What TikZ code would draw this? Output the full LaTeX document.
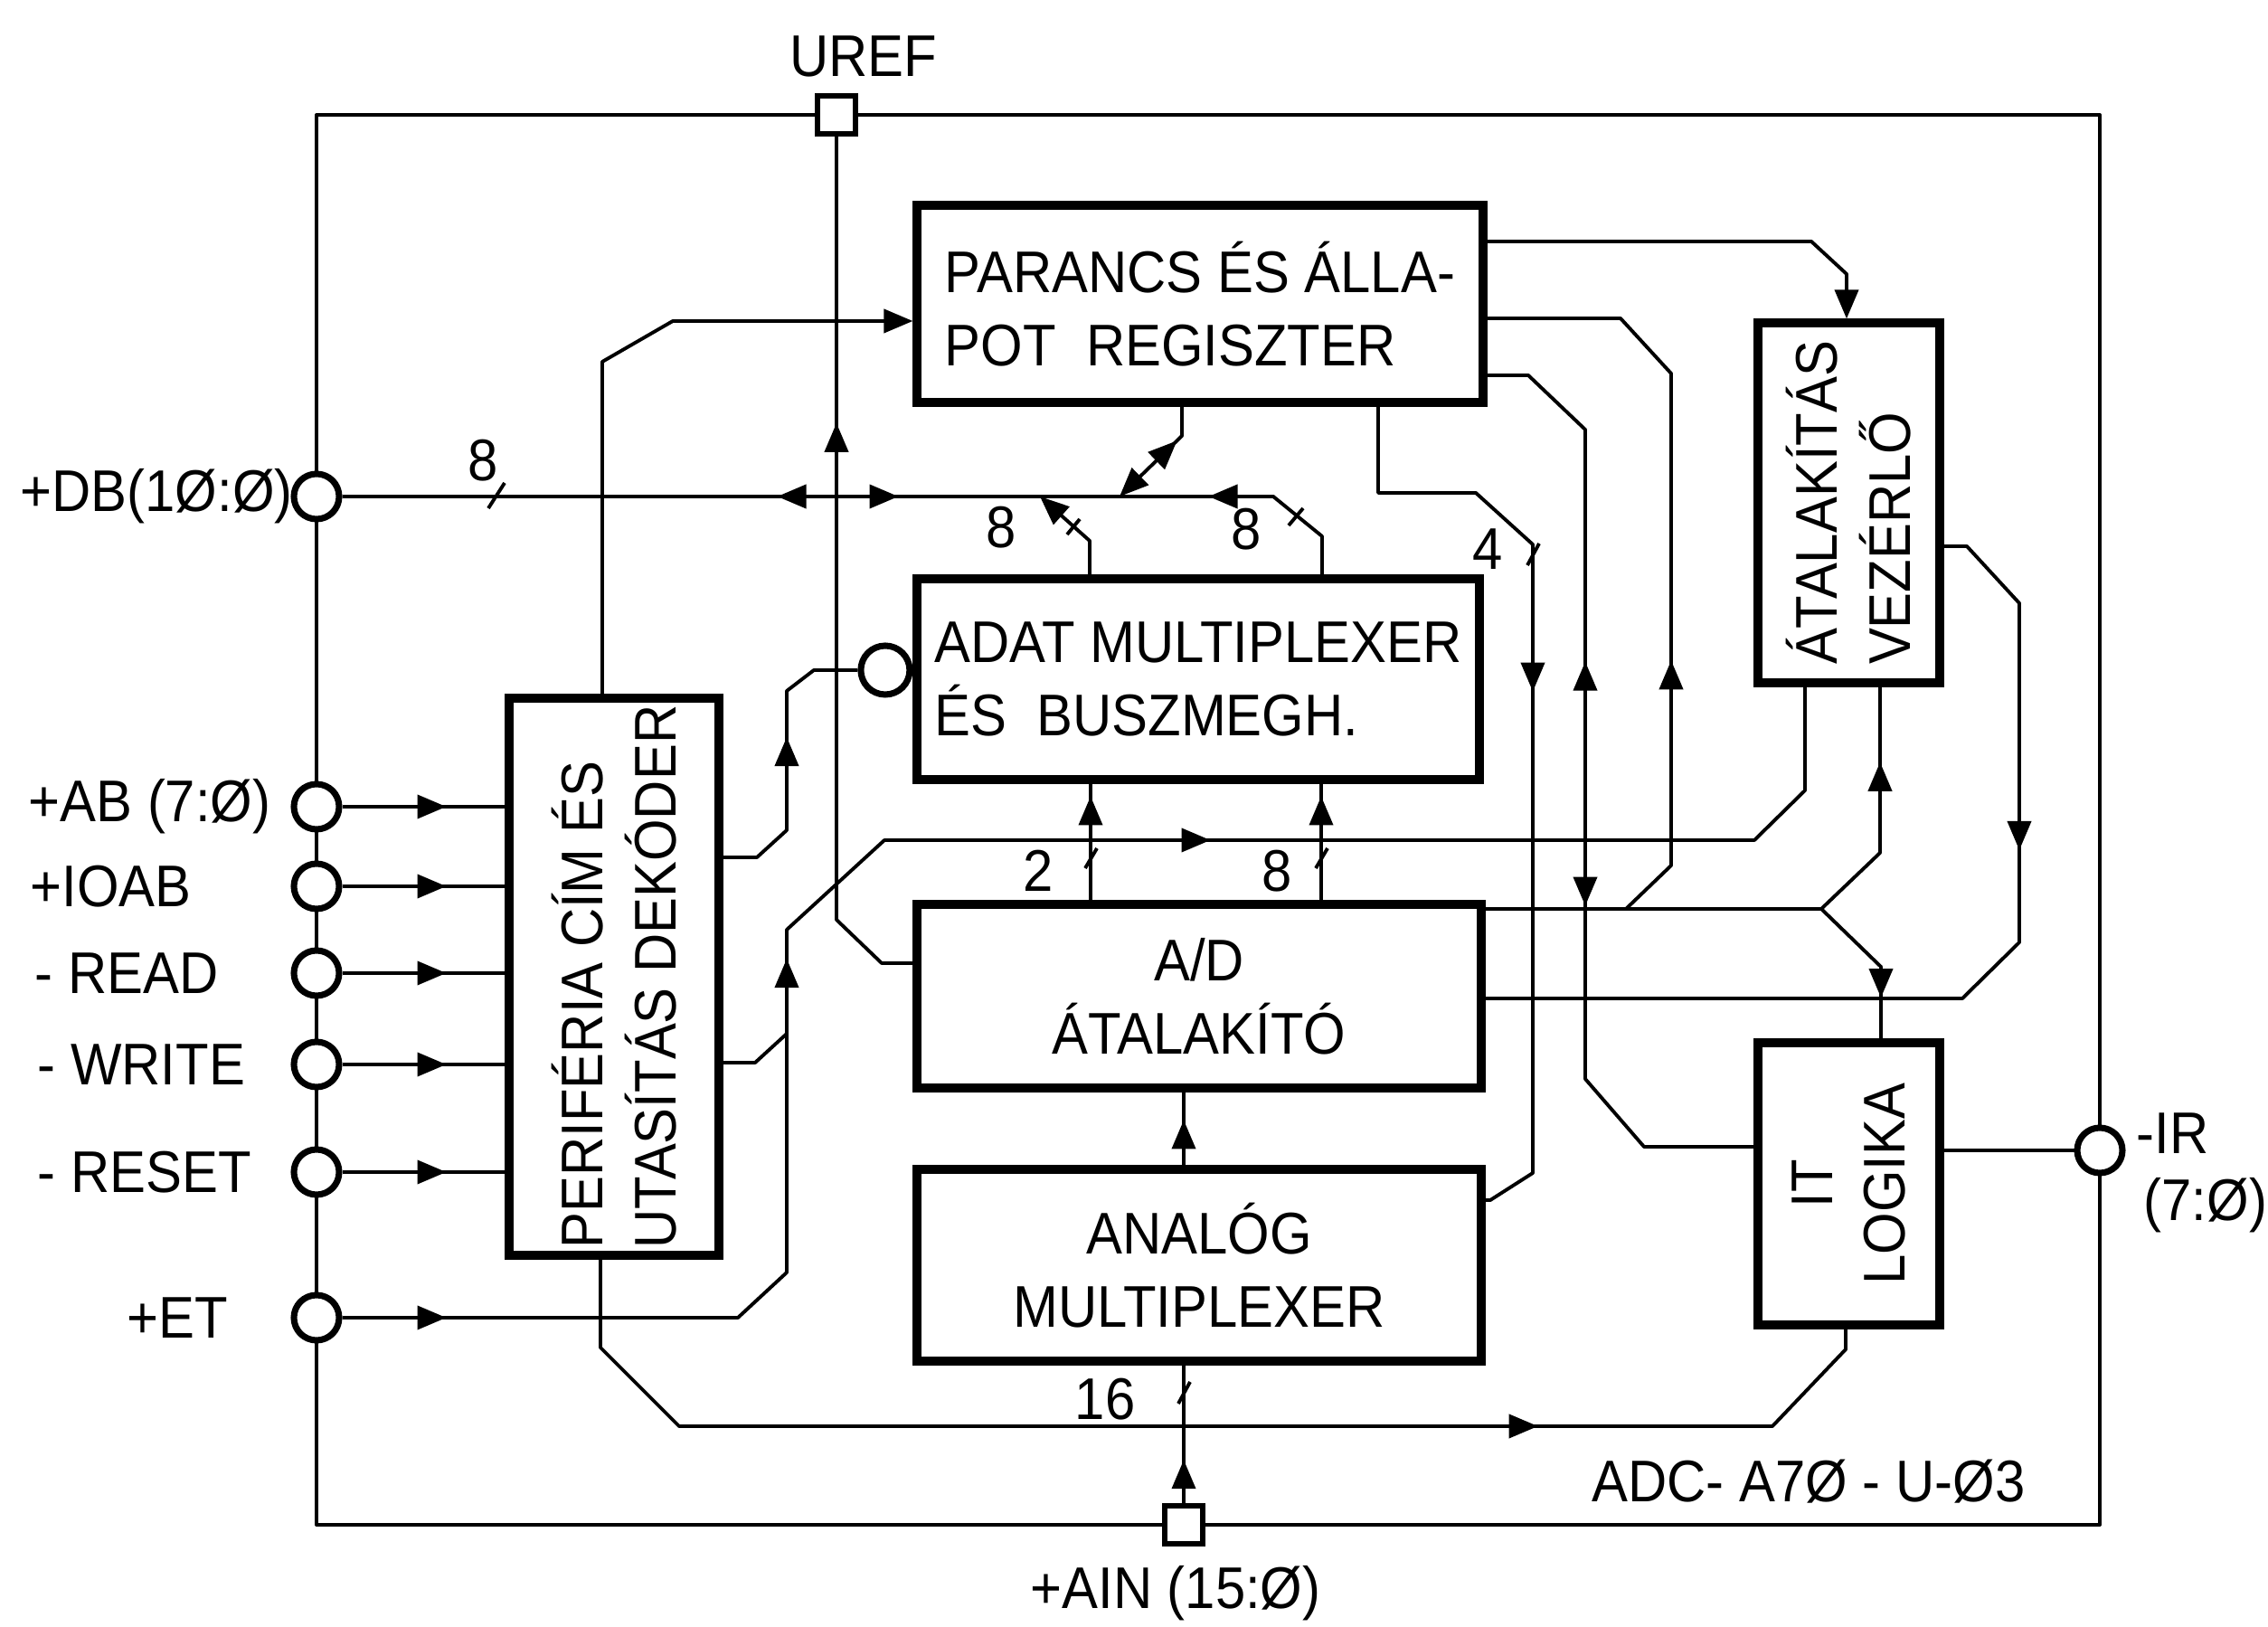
\documentclass[tikz,border=0pt]{standalone}
\usepackage{fontspec}
\setmainfont{Liberation Sans}[FakeStretch=0.92]
\usetikzlibrary{arrows.meta,decorations.markings}

\tikzset{
	block/.style={draw, line width=2.6pt, inner sep=2pt},
	term/.style={draw, circle, line width=2pt, fill=white, minimum size=0.5cm, inner sep=0pt},
	pad/.style={draw, rectangle, line width=1.6pt, fill=white, minimum size=0.42cm, inner sep=0pt},
	conn/.style={line width=1.1pt, line join=round},
	endarrow/.style={-{Triangle[length=3.2mm,width=2.6mm]}},
	fwd/.style={postaction={decorate,decoration={markings,mark=at position #1 with {\arrow{Triangle[length=3.2mm,width=2.6mm]}}}}},
	bwd/.style={postaction={decorate,decoration={markings,mark=at position #1 with {\arrowreversed{Triangle[length=3.2mm,width=2.6mm]}}}}},
	pinlabel/.style={anchor=west, inner sep=0pt}
}

\begin{document}
\begin{tikzpicture}[font=\fontsize{18.5}{23}\selectfont]
		
		\useasboundingbox (0,0) rectangle (25.08,17.98);
		
		% Keret
		\draw[conn] (3.50,1.12) rectangle (23.22,16.71);
		\node[pad] (uref) at (9.25,16.71) {};
		\node at (9.55,17.36) {UREF};
		\node[pad] (ain) at (13.09,1.12) {};
		\node at (13.00,0.36) {+AIN (15:Ø)};
		
		% Csatlakozok
		\node[term] (db) at (3.50,12.49) {};
		\node[term] (ab) at (3.50,9.06) {};
		\node[term] (ioab) at (3.50,8.18) {};
		\node[term] (read) at (3.50,7.22) {};
		\node[term] (write) at (3.50,6.21) {};
		\node[term] (reset) at (3.50,5.02) {};
		\node[term] (et) at (3.50,3.41) {};
		\node[term] (ir) at (23.22,5.26) {};
		
		\node[pinlabel] at (0.22,12.49) {+DB(1Ø:Ø)};
		\node[pinlabel] at (0.31,9.06) {+AB (7:Ø)};
		\node[pinlabel] at (0.33,8.18) {+IOAB};
		\node[pinlabel] at (0.38,7.22) {- READ};
		\node[pinlabel] at (0.41,6.21) {- WRITE};
		\node[pinlabel] at (0.41,5.02) {- RESET};
		\node[pinlabel] at (1.40,3.41) {+ET};
		\node[pinlabel] at (23.62,5.45) {-IR};
		\node[pinlabel] at (23.70,4.65) {(7:Ø)};
		
		% Blokkok
		\node[block, minimum width=6.26cm, minimum height=2.18cm, align=left] (parancs) at (13.27,14.62) {PARANCS ÉS ÁLLA-\\POT\ \ REGISZTER};
		\node[block, minimum width=6.22cm, minimum height=2.22cm, align=left] (adat) at (13.25,10.47) {ADAT MULTIPLEXER\\ÉS\ \ BUSZMEGH.};
		\node[block, minimum width=6.24cm, minimum height=2.03cm, align=center] (ad) at (13.26,6.965) {A/D\\ÁTALAKÍTÓ};
		\node[block, minimum width=6.24cm, minimum height=2.12cm, align=center] (amux) at (13.26,3.99) {ANALÓG\\MULTIPLEXER};
		\node[block, minimum width=2.32cm, minimum height=6.16cm] (perif) at (6.79,7.18) {};
		\node[rotate=90, align=left] at (perif.center) {PERIFÉRIA CÍM ÉS\\UTASÍTÁS DEKÓDER};
		\node[block, minimum width=2.01cm, minimum height=3.98cm] (vez) at (20.445,12.42) {};
		\node[rotate=90, align=left] at (vez.center) {ÁTALAKÍTÁS\\VEZÉRLŐ};
		\node[block, minimum width=2.01cm, minimum height=3.12cm] (itlog) at (20.445,4.89) {};
		\node[rotate=90, align=center] at (itlog.center) {IT\\LOGIKA};
		\node[term, minimum size=0.54cm, anchor=east] (inv) at (adat.west |- 0,10.57) {};
		
		% Csomopontok
		\coordinate (jp) at (8.70,6.55);
		\coordinate (jq) at (17.98,7.93);
		\coordinate (jv) at (20.14,7.93);
		
		% Adatbusz
		\draw[conn, bwd=4.81cm, fwd=6.15cm, bwd=9.58cm] (db) -- (14.08,12.49) -- (14.62,12.05) -- (14.62,0 |- adat.north);
		\draw[conn, endarrow] (12.05,0 |- adat.north) -- (12.05,12.00) -- (11.50,12.49);
		\draw[conn, endarrow, bwd=0.40cm] (13.07,0 |- parancs.south) -- (13.07,13.16) -- (12.38,12.49);
		
		% Bemenetek
		\foreach \pin in {ab,ioab,read,write,reset}
			\draw[conn, fwd=1.15cm] (\pin) -- (perif.west |- \pin);
		\draw[conn, endarrow] (6.66,0 |- perif.north) -- (6.66,13.98) -- (7.44,14.43) -- (parancs.west |- 0,14.43);
		\draw[conn, fwd=1.85cm] (perif.east |- 0,8.50) -- (8.37,8.50) -- (8.70,8.80) -- (8.70,10.34) -- (9.00,10.57) -- (inv);
		\draw[conn] (perif.east |- 0,6.23) -- (8.35,6.23) -- (jp);
		\draw[conn, fwd=1.15cm, fwd=8.58cm, fwd=13.97cm] (et) -- (8.16,3.41) -- (8.70,3.91) -- (jp) -- (8.70,7.70) -- (9.78,8.69) -- (19.40,8.69) -- (19.96,9.24) -- (19.96,0 |- vez.south);
		\draw[conn, bwd=3.17cm] (uref) -- (9.25,7.81) -- (9.75,7.33) -- (ad.west |- 0,7.33);
		\draw[conn, fwd=0.48cm] (ain) -- (13.09,0 |- amux.south);
		\draw[conn, fwd=0.50cm] (13.09,0 |- amux.north) -- (13.09,0 |- ad.south);
		\draw[conn, fwd=1.15cm] (12.06,0 |- ad.north) -- (12.06,0 |- adat.south);
		\draw[conn, fwd=1.15cm] (14.61,0 |- ad.north) -- (14.61,0 |- adat.south);
		\draw[conn, fwd=11.7cm] (6.64,0 |- perif.south) -- (6.64,3.08) -- (7.51,2.21) -- (19.60,2.21) -- (20.41,3.06) -- (20.41,0 |- itlog.south);
		
		% Vezerles
		\draw[conn, endarrow] (parancs.east |- 0,15.31) -- (20.03,15.31) -- (20.42,14.95) -- (20.42,0 |- vez.north);
		\draw[conn, fwd=2.96cm] (jq) -- (18.48,8.41) -- (18.48,13.85) -- (17.92,14.46) -- (parancs.east |- 0,14.46);
		\draw[conn, bwd=3.89cm, fwd=6.59cm] (parancs.east |- 0,13.83) -- (16.90,13.83) -- (17.53,13.23) -- (17.53,6.05) -- (18.18,5.30) -- (itlog.west |- 0,5.30);
		\draw[conn, fwd=4.51cm] (15.24,0 |- parancs.south) -- (15.24,12.53) -- (16.32,12.53) -- (16.95,11.96) -- (16.95,5.01) -- (16.48,4.71) -- (amux.east |- 0,4.71);
		\draw[conn] (ad.east |- 0,7.93) -- (jq) -- (jv);
		\draw[conn, fwd=1.90cm] (jv) -- (20.79,8.55) -- (20.79,0 |- vez.south);
		\draw[conn, fwd=1.26cm] (jv) -- (20.80,7.29) -- (20.80,0 |- itlog.north);
		\draw[conn, fwd=3.84cm] (vez.east |- 0,11.94) -- (21.75,11.94) -- (22.33,11.31) -- (22.33,7.56) -- (21.70,6.94) -- (ad.east |- 0,6.94);
		\draw[conn] (itlog.east |- ir) -- (ir);
		
		% Buszszelesseg
		\draw[conn] (5.40,12.36) -- (5.58,12.64);
		\node at (5.34,12.89) {8};
		\draw[conn] (11.80,12.07) -- (11.94,12.24);
		\node at (11.07,12.15) {8};
		\draw[conn] (14.25,12.17) -- (14.41,12.36);
		\node at (13.78,12.13) {8};
		\draw[conn] (12.00,8.38) -- (12.13,8.60);
		\node at (11.48,8.35) {2};
		\draw[conn] (14.55,8.38) -- (14.68,8.60);
		\node at (14.12,8.35) {8};
		\draw[conn] (16.89,11.73) -- (17.02,11.97);
		\node at (16.45,11.91) {4};
		\draw[conn] (13.03,2.46) -- (13.16,2.70);
		\node at (12.22,2.51) {16};
		
		\node at (20.00,1.60) {ADC- A7Ø - U-Ø3};
		
	\end{tikzpicture}
\end{document}
